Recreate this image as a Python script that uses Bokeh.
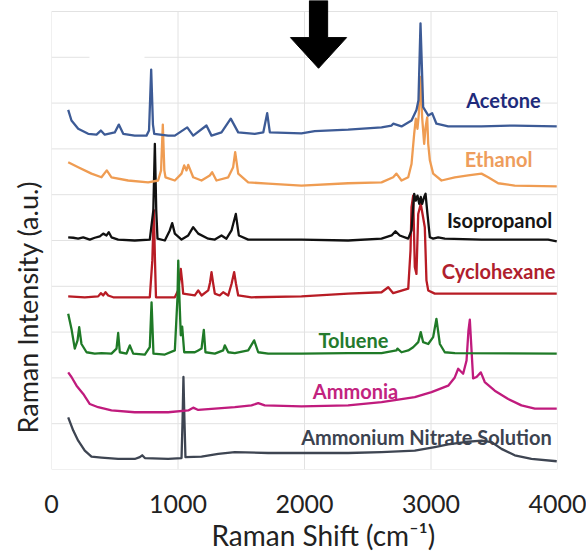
from bokeh.plotting import figure
from bokeh.models import Range1d, Title, ColumnDataSource
from bokeh.embed import file_html
from bokeh.resources import INLINE
from bokeh.core.properties import value

# ---------------- data ----------------
x_ticks = [0, 1000, 2000, 3000, 4000]
y_grid = [0, 1, 2, 3, 4, 5, 6, 7, 8, 9, 10]

acetone_x = [132, 158, 211, 290, 356, 390, 421, 500, 532, 567, 658, 751, 771, 788, 802, 812,
             922, 975, 1073, 1120, 1225, 1265, 1344, 1417, 1476, 1607, 1674, 1705, 1726, 1976,
             2081, 2345, 2609, 2688, 2701, 2767, 2846, 2885, 2901, 2917, 2938, 2978, 3009, 3043,
             3136, 3399, 3662, 3994]
acetone_y = [7.85, 7.62, 7.44, 7.33, 7.31, 7.40, 7.31, 7.36, 7.53, 7.33, 7.29, 7.29, 7.40, 8.73, 7.53, 7.33,
             7.29, 7.29, 7.47, 7.29, 7.51, 7.29, 7.36, 7.66, 7.36, 7.33, 7.36, 7.78, 7.36, 7.34,
             7.39, 7.42, 7.47, 7.51, 7.55, 7.49, 7.62, 7.85, 8.06, 9.74, 7.91, 7.73, 7.78, 7.55,
             7.49, 7.49, 7.51, 7.49]

ethanol_x = [132, 211, 316, 395, 437, 474, 606, 764, 843, 866, 880, 892, 901, 975, 1028, 1049, 1067,
             1081, 1120, 1186, 1251, 1270, 1304, 1397, 1436, 1452, 1476, 1555, 1713, 1976, 2345,
             2609, 2701, 2727, 2767, 2820, 2846, 2867, 2880, 2893, 2904, 2917, 2930, 2946, 2957,
             2970, 2978, 2991, 3017, 3083, 3188, 3294, 3399, 3452, 3531, 3662, 3994]
ethanol_y = [6.71, 6.60, 6.46, 6.38, 6.53, 6.38, 6.31, 6.27, 6.31, 6.53, 7.53, 6.53, 6.38, 6.31, 6.46, 6.64, 6.53,
             6.65, 6.38, 6.31, 6.42, 6.49, 6.31, 6.38, 6.60, 6.93, 6.46, 6.27, 6.24, 6.20, 6.25,
             6.27, 6.38, 6.46, 6.31, 6.38, 6.67, 7.33, 7.66, 7.44, 7.77, 8.57, 7.69, 7.11, 7.47,
             7.69, 7.11, 6.75, 6.46, 6.31, 6.38, 6.42, 6.46, 6.38, 6.25, 6.20, 6.18]

isopropanol_x = [132, 172, 211, 251, 303, 342, 382, 409, 435, 453, 474, 527, 658, 777, 805, 817, 828,
                 838, 896, 935, 954, 975, 1028, 1081, 1120, 1160, 1239, 1291, 1344, 1383, 1423, 1457,
                 1481, 1555, 1976, 2345, 2609, 2688, 2719, 2753, 2820, 2846, 2867, 2880, 2893, 2907,
                 2919, 2930, 2946, 2957, 2972, 2991, 3017, 3057, 3109, 3399, 3926, 3994]
isopropanol_y = [5.07, 5.06, 5.04, 5.07, 5.02, 5.06, 5.09, 5.15, 5.11, 5.18, 5.07, 5.02, 5.00, 5.02, 5.66, 7.11, 5.66,
                 5.04, 5.00, 5.22, 5.38, 5.15, 5.02, 5.11, 5.29, 5.15, 5.04, 5.02, 5.11, 5.04, 5.22, 5.58,
                 5.11, 5.02, 5.02, 5.00, 5.04, 5.11, 5.20, 5.11, 5.04, 5.22, 6.02, 5.87, 5.98, 5.80,
                 5.95, 5.80, 5.95, 6.02, 5.58, 5.07, 5.04, 5.07, 5.04, 5.02, 5.02, 4.98]

cyclohexane_x = [132, 263, 369, 390, 409, 427, 448, 488, 658, 777, 797, 809, 818, 826, 922, 975, 1001,
                 1012, 1022, 1032, 1041, 1133, 1160, 1186, 1239, 1253, 1265, 1277, 1291, 1330, 1357,
                 1397, 1423, 1444, 1458, 1476, 1581, 1976, 2345, 2609, 2662, 2701, 2820, 2838, 2846,
                 2859, 2872, 2885, 2899, 2919, 2933, 2951, 2964, 2978, 3030, 3136, 3399, 3994]
cyclohexane_y = [3.78, 3.76, 3.78, 3.85, 3.80, 3.87, 3.80, 3.76, 3.76, 3.76, 4.56, 5.66, 4.56, 3.76, 3.76, 3.76, 3.91,
                 4.13, 4.38, 4.13, 3.84, 3.80, 3.91, 3.80, 3.91, 4.08, 4.31, 4.08, 3.84, 3.80, 3.87,
                 3.80, 4.05, 4.31, 4.06, 3.80, 3.76, 3.78, 3.84, 3.87, 3.98, 3.85, 3.95, 4.78, 5.73,
                 5.98, 4.42, 4.27, 5.58, 5.80, 5.58, 5.29, 4.13, 3.91, 3.84, 3.84, 3.84, 3.84]

toluene_x = [132, 158, 184, 206, 219, 237, 277, 342, 395, 474, 514, 527, 540, 593, 619, 646, 738, 777,
             791, 806, 896, 975, 996, 1002, 1012, 1022, 1033, 1049, 1133, 1160, 1186, 1204, 1217,
             1291, 1357, 1370, 1397, 1449, 1555, 1602, 1634, 1713, 1976, 2345, 2609, 2727, 2735,
             2767, 2820, 2859, 2899, 2919, 2938, 2978, 3017, 3043, 3070, 3109, 3188, 3994]
toluene_y = [3.40, 3.07, 2.64, 2.82, 3.11, 2.74, 2.56, 2.53, 2.54, 2.53, 2.64, 2.98, 2.56, 2.53, 2.71, 2.53, 2.51, 2.67,
             3.65, 2.53, 2.51, 2.60, 3.76, 4.56, 3.69, 2.93, 3.12, 2.56, 2.56, 2.60, 2.64, 3.05, 2.56,
             2.53, 2.60, 2.71, 2.56, 2.54, 2.60, 2.82, 2.56, 2.53, 2.53, 2.54, 2.54, 2.60, 2.64,
             2.56, 2.60, 2.67, 2.78, 3.00, 2.78, 2.74, 2.89, 3.29, 2.74, 2.56, 2.54, 2.53]

ammonia_x = [132, 158, 198, 251, 303, 369, 474, 658, 922, 1081, 1120, 1160, 1449, 1581, 1634, 1686,
             1976, 2345, 2609, 2872, 3004, 3136, 3188, 3215, 3254, 3281, 3296, 3307, 3316, 3333,
             3360, 3394, 3425, 3504, 3610, 3715, 3821, 3994]
ammonia_y = [2.12, 2.02, 1.83, 1.65, 1.43, 1.36, 1.29, 1.25, 1.25, 1.29, 1.35, 1.30, 1.36, 1.40, 1.45, 1.40,
             1.38, 1.40, 1.47, 1.58, 1.69, 1.83, 2.01, 2.20, 2.09, 2.38, 3.03, 3.27, 2.82, 1.99,
             2.02, 2.12, 1.91, 1.72, 1.54, 1.40, 1.33, 1.33]

nitrate_x = [132, 172, 211, 263, 316, 395, 527, 658, 698, 717, 738, 922, 1028, 1036, 1043, 1051, 1059,
             1186, 1318, 1449, 1713, 1976, 2345, 2609, 2872, 3030, 3136, 3267, 3399, 3478, 3557,
             3662, 3794, 3994]
nitrate_y = [1.14, 0.85, 0.63, 0.41, 0.28, 0.26, 0.23, 0.23, 0.27, 0.31, 0.25, 0.23, 0.25, 1.07, 2.02, 1.07, 0.27,
             0.28, 0.34, 0.38, 0.36, 0.36, 0.36, 0.38, 0.41, 0.49, 0.55, 0.60, 0.63, 0.60, 0.45,
             0.31, 0.23, 0.18]

label_names = ["Acetone", "Ethanol", "Isopropanol", "Cyclohexane", "Toluene", "Ammonia",
               "Ammonium Nitrate Solution"]
label_x = [3573, 3534, 3542, 3534, 2387, 2403, 2964]
label_y = [8.06, 6.79, 5.44, 4.34, 2.82, 1.72, 0.70]

# ---------------- styles ----------------
line_colors = {"acetone": "#3D5B96", "ethanol": "#EF9C52", "isopropanol": "#111111",
               "cyclohexane": "#B81C25", "toluene": "#1F7A27", "ammonia": "#C01B7D",
               "nitrate": "#3E4552"}
label_colors = ["#1F2B7B", "#EE9D5C", "#151515", "#B0202D", "#247A2D", "#C2237F", "#3C4350"]
FONT = "Lato"

p = figure(frame_width=506, frame_height=469,
           x_range=Range1d(0, 4000), y_range=Range1d(0, 10.24),
           output_backend="svg", toolbar_location=None, y_axis_location=None,
           min_border_left=50, min_border_right=30, min_border_top=0, min_border_bottom=87,
           background_fill_color="white", border_fill_color="white")
p.outline_line_color = None
p.xgrid.visible = False
p.ygrid.visible = False

# grid drawn inside the 0..10 band only
grid_color = "#E2E2E2"
p.segment(x0=x_ticks, x1=x_ticks, y0=[0] * len(x_ticks), y1=[10] * len(x_ticks),
          line_color=grid_color, line_width=1)
p.segment(x0=[0] * len(y_grid), x1=[4000] * len(y_grid), y0=y_grid, y1=y_grid,
          line_color=grid_color, line_width=1)

# white patch present in the reference (upper left)
p.quad(left=[300], right=[735], bottom=[8.28], top=[9.91], fill_color="white", line_color=None)

series = [("nitrate", nitrate_x, nitrate_y), ("ammonia", ammonia_x, ammonia_y),
          ("cyclohexane", cyclohexane_x, cyclohexane_y), ("toluene", toluene_x, toluene_y),
          ("isopropanol", isopropanol_x, isopropanol_y), ("ethanol", ethanol_x, ethanol_y),
          ("acetone", acetone_x, acetone_y)]
for key, xs, ys in series:
    p.line(xs, ys, line_color=line_colors[key], line_width=2.3, line_join="round")

src = ColumnDataSource(dict(x=label_x, y=label_y, t=label_names, c=label_colors))
p.text(x="x", y="y", text="t", text_color="c", source=src, text_font=value(FONT),
       text_font_size="20px", text_font_style="bold", text_align="center", text_baseline="middle")

# down arrow annotation
arrow_cx, shaft_half, head_half = 2111, 72, 222
shaft_top, head_top, tip = 10.24, 9.43, 8.76
p.patch([arrow_cx - shaft_half, arrow_cx + shaft_half, arrow_cx + shaft_half, arrow_cx + head_half,
         arrow_cx, arrow_cx - head_half, arrow_cx - shaft_half],
        [shaft_top, shaft_top, head_top, head_top, tip, head_top, head_top],
        fill_color="black", line_color="black")

ax = p.xaxis[0]
ax.ticker = x_ticks
ax.axis_line_color = None
ax.major_tick_line_color = None
ax.minor_tick_line_color = None
ax.major_tick_out = 0
ax.major_tick_in = 0
ax.minor_tick_out = 0
ax.minor_tick_in = 0
ax.major_label_standoff = 25
ax.major_label_text_font = FONT
ax.major_label_text_font_size = "25px"
ax.major_label_text_color = "#222222"

p.add_layout(Title(text="Raman Shift (cm⁻¹)", align="left", offset=160, standoff=0,
                   text_font=FONT, text_font_size="28px", text_font_style="normal",
                   text_color="#222222"), "below")
p.add_layout(Title(text="Raman Intensity (a.u.)", align="left", offset=36, standoff=16,
                   text_font=FONT, text_font_size="27px", text_font_style="normal",
                   text_color="#222222"), "left")

open("out.html", "w").write(file_html(p, INLINE))
